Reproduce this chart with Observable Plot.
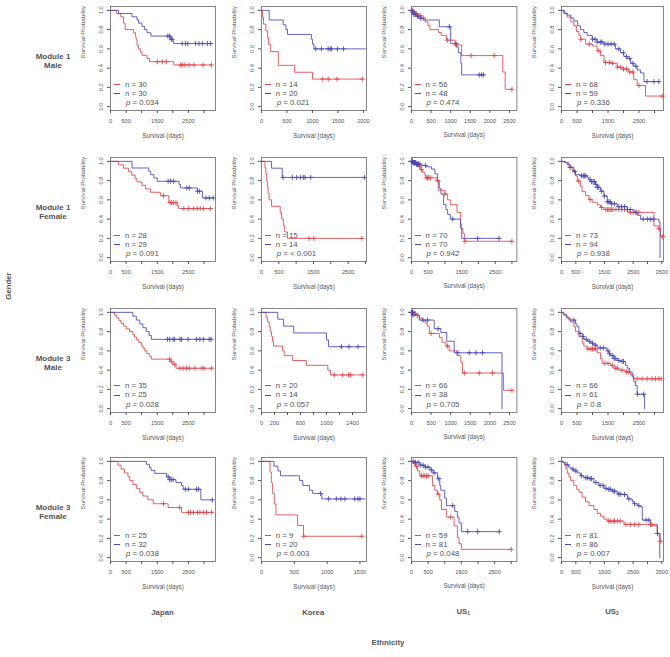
<!DOCTYPE html>
<html><head><meta charset="utf-8">
<script src="https://cdn.jsdelivr.net/npm/d3@7"></script>
<script src="https://cdn.jsdelivr.net/npm/@observablehq/plot@0.6"></script>
<style>
body{margin:0;background:#fff;}
#chart{position:relative;width:670px;height:657px;overflow:hidden;background:#fff;font-family:"Liberation Sans",Arial,Helvetica,sans-serif;color:#555;}
#chart svg{position:absolute;}
.lab{position:absolute;transform:translate(-50%,-50%);text-align:center;font-weight:bold;white-space:nowrap;color:#555;}
.leg{position:absolute;font-size:7.8px;line-height:9.3px;color:#555;white-space:nowrap;}
.leg .sw{display:inline-block;width:6px;height:0;border-top:1px solid;vertical-align:middle;margin-right:5px;}
.leg .pp{padding-left:12px;}
sub{font-size:5px;vertical-align:-1px;}
</style></head><body><div id="chart"></div>
<script>
// ---------- labels ----------
const rowLabels = [["Module 1","Male"],["Module 1","Female"],["Module 3","Male"],["Module 3","Female"]];
const colLabels = ["Japan","Korea","US<sub>1</sub>","US<sub>2</sub>"];
const yTicks = [0,0.2,0.4,0.6,0.8,1.0];

// ---------- x tick sets ----------
const ticks1500 = [0,500,1000,1500];           const labels1500 = ["0","500","1000","1500"];
const ticks2000 = [0,500,1000,1500,2000];      const labels2000 = ["0","500","1000","1500","2000"];
const ticks2500 = [0,500,1000,1500,2000,2500]; const labels2500 = ["0","500","1000","1500","2000","2500"];
const ticks3000 = [0,500,1000,1500,2000,2500,3000]; const labels3000 = ["0","500","","1500","","2500",""];
const ticks3500 = [0,500,1000,1500,2000,2500,3000,3500]; const labels3500 = ["0","500","","1500","","2500","","3500"];
const ticks1400 = [0,200,400,600,800,1000,1200,1400]; const labels1400 = ["0","200","","600","","1000","","1400"];

// ---------- Module 1 Male ----------
const japan_m1m_red = [[0,1],[200,0.967],[330,0.933],[420,0.867],[470,0.80],[740,0.767],[800,0.733],[820,0.70],[850,0.633],[900,0.60],[960,0.567],[1010,0.533],[1170,0.50],[1250,0.467],[2030,0.433],[3240,0.433]];
const japan_m1m_redC = [1500,1660,1790,2250,2300,2390,2520,2680,2970,3240];
const japan_m1m_blue = [[0,1],[260,0.967],[690,0.933],[850,0.90],[900,0.867],[1010,0.833],[1090,0.80],[1170,0.767],[1300,0.733],[1930,0.70],[2000,0.683],[2030,0.655],[3240,0.655]];
const japan_m1m_blueC = [1840,1900,1950,1980,2300,2410,2480,2730,2840,2950,3110,3215];

const korea_m1m_red = [[0,1],[20,0.929],[40,0.857],[85,0.786],[120,0.714],[140,0.643],[180,0.571],[330,0.429],[650,0.357],[1000,0.286],[1980,0.286]];
const korea_m1m_redC = [1200,1310,1480,1980];
const korea_m1m_blue = [[0,1],[150,0.90],[425,0.85],[480,0.80],[510,0.75],[980,0.70],[1000,0.65],[1030,0.60],[2040,0.60]];
const korea_m1m_blueC = [1065,1176,1307,1346,1373,1490,1608];

const us1_m1m_red = [[0,1],[30,0.982],[80,0.964],[150,0.946],[250,0.92],[350,0.88],[420,0.84],[470,0.80],[690,0.77],[760,0.74],[890,0.69],[1110,0.64],[1280,0.53],[2330,0.36],[2390,0.18],[2564,0.18]];
const us1_m1m_redC = [20,45,60,100,130,180,220,300,920,1140,1520,2110,2564];
const us1_m1m_blue = [[0,1],[20,0.979],[50,0.958],[120,0.937],[200,0.916],[300,0.90],[710,0.83],[1000,0.655],[1140,0.62],[1195,0.56],[1260,0.45],[1280,0.33],[1840,0.33]];
const us1_m1m_blueC = [10,30,60,90,150,240,964,1135,1730,1790,1840];

const us2_m1m_red = [[0,1],[60,0.97],[180,0.93],[300,0.88],[400,0.84],[480,0.78],[560,0.74],[620,0.70],[780,0.65],[1000,0.63],[1150,0.58],[1260,0.53],[1370,0.46],[1580,0.45],[1800,0.41],[1960,0.39],[2170,0.36],[2330,0.28],[2440,0.22],[2710,0.11],[3250,0.11]];
const us2_m1m_redC = [620,900,1200,1420,1550,1650,1800,1900,2000,2100,2200,2300,2500,3250];
const us2_m1m_blue = [[0,1],[100,0.97],[180,0.95],[300,0.92],[400,0.89],[520,0.84],[610,0.80],[720,0.77],[830,0.74],[990,0.70],[1150,0.67],[1370,0.65],[1740,0.60],[1900,0.56],[2010,0.52],[2120,0.50],[2230,0.45],[2330,0.42],[2440,0.38],[2550,0.35],[2660,0.26],[3140,0.26]];
const us2_m1m_blueC = [1000,1080,1150,1250,1300,1400,1500,1600,1700,1850,2000,2100,2200,2300,2400,2760,2980,3140];

// ---------- Module 1 Female ----------
const japan_m1f_red = [[0,1],[260,0.964],[420,0.929],[580,0.893],[680,0.857],[790,0.821],[850,0.786],[1010,0.75],[1120,0.714],[1280,0.679],[1600,0.643],[1870,0.571],[2140,0.536],[2190,0.51],[3270,0.51]];
const japan_m1f_redC = [1700,1910,1960,2020,2100,2350,2510,2670,2780,2880,2990,3200];
const japan_m1f_blue = [[0,1],[690,0.931],[1230,0.897],[1290,0.862],[1390,0.828],[1500,0.793],[2200,0.759],[2250,0.724],[2790,0.69],[2950,0.62],[3300,0.62]];
const japan_m1f_blueC = [1850,1930,2030,2450,2530,2790,2850,3060,3170,3300];

const korea_m1f_red = [[0,1],[100,0.933],[125,0.867],[150,0.80],[170,0.733],[190,0.667],[220,0.60],[290,0.533],[540,0.467],[580,0.40],[630,0.333],[670,0.267],[750,0.20],[2900,0.20]];
const korea_m1f_redC = [1370,1510,2900];
const korea_m1f_blue = [[0,1],[290,0.929],[600,0.833],[2970,0.833]];
const korea_m1f_blueC = [620,890,1015,1130,1210,1255,1420,2970];

const us1_m1f_red = [[0,1],[60,0.986],[150,0.971],[230,0.943],[280,0.914],[330,0.886],[400,0.857],[430,0.829],[760,0.80],[800,0.70],[1000,0.66],[1080,0.60],[1160,0.55],[1360,0.47],[1470,0.35],[1500,0.30],[1540,0.25],[1580,0.17],[3000,0.17]];
const us1_m1f_redC = [30,60,100,130,160,200,250,300,440,480,520,560,780,1000,1600,3000];
const us1_m1f_blue = [[0,1],[50,0.986],[150,0.971],[300,0.957],[430,0.943],[600,0.92],[700,0.87],[780,0.80],[830,0.72],[880,0.66],[960,0.55],[1030,0.50],[1080,0.45],[1160,0.40],[1460,0.31],[1500,0.20],[2620,0.20]];
const us1_m1f_blueC = [10,30,50,70,90,120,150,180,210,250,420,1230,1980,2620];

const us2_m1f_red = [[0,1],[140,0.986],[260,0.945],[370,0.904],[490,0.849],[550,0.795],[660,0.740],[720,0.685],[840,0.644],[960,0.603],[1070,0.575],[1250,0.548],[1360,0.52],[1480,0.50],[2300,0.47],[3230,0.33],[3400,0.30],[3460,0.22],[3530,0.22]];
const us2_m1f_redC = [600,1000,1400,1550,1600,1650,1700,1750,1800,1900,2000,2100,2200,2400,2500,2600,2700,3400,3530];
const us2_m1f_blue = [[0,1],[100,0.989],[200,0.968],[300,0.936],[430,0.894],[490,0.862],[660,0.850],[900,0.83],[960,0.81],[1010,0.79],[1190,0.76],[1250,0.73],[1360,0.69],[1480,0.64],[1600,0.58],[1710,0.56],[1950,0.53],[2300,0.50],[2530,0.47],[2650,0.44],[2760,0.40],[3400,0.37],[3440,0]];
const us2_m1f_blueC = [300,450,700,760,800,850,1000,1050,1100,1150,1200,1250,1300,1400,1500,1600,1650,1700,1750,1850,2000,2100,2200,2300,2400,2600,2850,3000,3100,3200];

// ---------- Module 3 Male ----------
const japan_m3m_red = [[0,1],[130,0.971],[200,0.943],[270,0.914],[340,0.886],[420,0.857],[500,0.829],[610,0.80],[720,0.771],[770,0.743],[830,0.714],[910,0.686],[990,0.657],[1040,0.629],[1100,0.60],[1170,0.571],[1260,0.543],[1310,0.514],[1930,0.49],[2000,0.46],[2100,0.42],[3250,0.42]];
const japan_m3m_redC = [1900,1950,2050,2230,2330,2440,2530,2710,2930,3000,3250];
const japan_m3m_blue = [[0,1],[720,0.96],[830,0.92],[940,0.88],[1040,0.84],[1150,0.80],[1240,0.76],[1310,0.72],[3250,0.72]];
const japan_m3m_blueC = [1830,1900,2010,2060,2230,2280,2490,2760,2870,2980,3170,3230];

const korea_m3m_red = [[0,1],[70,0.95],[90,0.90],[120,0.85],[135,0.80],[155,0.75],[170,0.70],[185,0.65],[325,0.60],[350,0.55],[480,0.50],[690,0.45],[1020,0.40],[1060,0.35],[1560,0.35]];
const korea_m3m_redC = [1120,1250,1340,1370,1560];
const korea_m3m_blue = [[0,1],[250,0.929],[340,0.857],[495,0.786],[1000,0.714],[1030,0.643],[1600,0.643]];
const korea_m3m_blueC = [1230,1345,1485];

const us1_m3m_red = [[0,1],[50,0.985],[115,0.97],[200,0.94],[285,0.91],[370,0.88],[413,0.85],[455,0.78],[710,0.74],[780,0.69],[880,0.65],[960,0.60],[1160,0.55],[1260,0.48],[1300,0.37],[2350,0.19],[2564,0.19]];
const us1_m3m_redC = [20,40,70,100,150,500,920,1350,1730,2070,2564];
const us1_m3m_blue = [[0,1],[30,0.97],[200,0.92],[580,0.83],[750,0.79],[900,0.70],[1090,0.58],[2310,0]];
const us1_m3m_blueC = [10,20,40,290,410,680,1180,1475,1645,1815];

const us2_m3m_red = [[0,1],[75,0.97],[180,0.94],[290,0.90],[400,0.85],[450,0.80],[560,0.75],[670,0.68],[720,0.65],[830,0.62],[1150,0.58],[1260,0.52],[1310,0.47],[1580,0.45],[1690,0.42],[1850,0.40],[2070,0.38],[2230,0.35],[2330,0.31],[3215,0.31]];
const us2_m3m_redC = [850,950,1000,1050,1100,1400,1500,1650,1750,1800,1950,2100,2150,2440,2600,2760,2920,3030,3140,3215];
const us2_m3m_blue = [[0,1],[60,0.98],[150,0.95],[240,0.92],[450,0.88],[500,0.85],[560,0.78],[670,0.75],[720,0.72],[830,0.70],[940,0.68],[1040,0.66],[1150,0.64],[1200,0.63],[1470,0.60],[1530,0.57],[1580,0.55],[1690,0.52],[1800,0.50],[1900,0.49],[2060,0.45],[2120,0.42],[2200,0.38],[2280,0.33],[2330,0.28],[2390,0.24],[2440,0.15],[2680,0]];
const us2_m3m_blueC = [400,600,700,800,900,1000,1100,1250,1350,1500,1550,1650,1700,1750,1850,1950,2000,2450,2650];

// ---------- Module 3 Female ----------
const japan_m3f_red = [[0,1],[240,0.96],[340,0.92],[450,0.88],[560,0.84],[620,0.80],[720,0.76],[830,0.72],[940,0.68],[1040,0.64],[1200,0.60],[1370,0.56],[1850,0.52],[2280,0.47],[3270,0.47]];
const japan_m3f_redC = [1700,2220,2500,2560,2660,2790,2870,2980,3080,3250];
const japan_m3f_blue = [[0,1],[1150,0.969],[1250,0.938],[1300,0.906],[1420,0.875],[1800,0.84],[1900,0.81],[2100,0.78],[2280,0.75],[2330,0.71],[2900,0.60],[3270,0.60]];
const japan_m3f_blueC = [1850,1900,1950,2010,2400,2500,2760,2830,3270];

const korea_m3f_red = [[0,1],[130,0.889],[150,0.778],[170,0.667],[195,0.556],[220,0.444],[550,0.333],[640,0.222],[1530,0.222]];
const korea_m3f_redC = [645,1530];
const korea_m3f_blue = [[0,1],[190,0.95],[250,0.90],[290,0.85],[580,0.80],[630,0.75],[730,0.70],[780,0.667],[920,0.61],[1580,0.61]];
const korea_m3f_blueC = [900,1020,1140,1210,1270,1420,1470,1500];

const us1_m3f_red = [[0,1],[60,0.98],[120,0.95],[180,0.90],[250,0.85],[630,0.75],[700,0.70],[780,0.66],[850,0.60],[900,0.50],[1060,0.42],[1280,0.33],[1380,0.21],[1430,0.145],[1500,0.086],[3000,0.086]];
const us1_m3f_redC = [100,150,300,350,400,450,500,800,1180,3000];
const us1_m3f_blue = [[0,1],[100,0.99],[250,0.96],[400,0.94],[560,0.91],[650,0.88],[780,0.82],[850,0.75],[880,0.70],[1000,0.62],[1050,0.54],[1300,0.48],[1380,0.42],[1430,0.36],[1500,0.27],[2640,0.27]];
const us1_m3f_blueC = [50,120,200,280,350,420,500,600,680,820,1240,1690,1990,2640];

const us2_m3f_red = [[0,1],[50,0.988],[100,0.963],[150,0.926],[200,0.876],[260,0.84],[320,0.80],[430,0.75],[530,0.71],[610,0.68],[720,0.63],[840,0.58],[960,0.54],[1130,0.50],[1250,0.46],[1360,0.43],[1480,0.40],[1600,0.38],[2180,0.345],[3340,0.25],[3440,0.17],[3470,0.17]];
const us2_m3f_redC = [1650,1700,1800,1850,1950,2050,2250,2400,2550,2700,3100,3150,3460];
const us2_m3f_blue = [[0,1],[60,0.988],[150,0.965],[250,0.94],[330,0.92],[430,0.90],[550,0.88],[660,0.85],[780,0.83],[960,0.82],[1130,0.78],[1300,0.75],[1480,0.72],[1600,0.71],[1770,0.69],[1950,0.66],[2120,0.655],[2300,0.61],[2470,0.58],[2530,0.56],[2650,0.54],[2740,0.53],[2820,0.39],[3110,0.33],[3345,0.25],[3430,0]];
const us2_m3f_blueC = [200,400,500,700,850,900,1000,1050,1200,1350,1450,1550,1650,1700,1800,1850,2000,2050,2200,2350,2550,2700,2950,3050,3350];

// ---------- legend values ----------
const nRed  = [[30,14,56,68],[28,15,70,73],[35,20,66,66],[25,9,59,81]];
const nBlue = [[30,20,48,59],[29,14,70,94],[25,14,38,61],[32,20,81,86]];
const pVals = [["0.034","0.021","0.474","0.336"],["0.091","< 0.001","0.942","0.938"],["0.028","0.057","0.705","0.8"],["0.038","0.003","0.048","0.007"]];
const xMax  = [[3370,2060,2690,3290],[3370,3030,3150,3560],[3370,1615,2690,3290],[3370,1600,3170,3560]];

// ---------- assemble ----------
const panels = [
 [japan_m1m_red,japan_m1m_redC,japan_m1m_blue,japan_m1m_blueC,ticks3000,labels3000],
 [korea_m1m_red,korea_m1m_redC,korea_m1m_blue,korea_m1m_blueC,ticks2000,labels2000],
 [us1_m1m_red,us1_m1m_redC,us1_m1m_blue,us1_m1m_blueC,ticks2500,labels2500],
 [us2_m1m_red,us2_m1m_redC,us2_m1m_blue,us2_m1m_blueC,ticks3000,labels3000],
 [japan_m1f_red,japan_m1f_redC,japan_m1f_blue,japan_m1f_blueC,ticks3000,labels3000],
 [korea_m1f_red,korea_m1f_redC,korea_m1f_blue,korea_m1f_blueC,ticks3000,labels3000],
 [us1_m1f_red,us1_m1f_redC,us1_m1f_blue,us1_m1f_blueC,ticks3000,labels3000],
 [us2_m1f_red,us2_m1f_redC,us2_m1f_blue,us2_m1f_blueC,ticks3500,labels3500],
 [japan_m3m_red,japan_m3m_redC,japan_m3m_blue,japan_m3m_blueC,ticks3000,labels3000],
 [korea_m3m_red,korea_m3m_redC,korea_m3m_blue,korea_m3m_blueC,ticks1400,labels1400],
 [us1_m3m_red,us1_m3m_redC,us1_m3m_blue,us1_m3m_blueC,ticks2500,labels2500],
 [us2_m3m_red,us2_m3m_redC,us2_m3m_blue,us2_m3m_blueC,ticks3000,labels3000],
 [japan_m3f_red,japan_m3f_redC,japan_m3f_blue,japan_m3f_blueC,ticks3000,labels3000],
 [korea_m3f_red,korea_m3f_redC,korea_m3f_blue,korea_m3f_blueC,ticks1500,labels1500],
 [us1_m3f_red,us1_m3f_redC,us1_m3f_blue,us1_m3f_blueC,ticks3000,labels3000],
 [us2_m3f_red,us2_m3f_redC,us2_m3f_blue,us2_m3f_blueC,ticks3500,labels3500]
];

const RED = "#e0464b", BLUE = "#4848b8";
const FONT = '"Liberation Sans", Arial, Helvetica, sans-serif';
const colLeft = [110, 260.7, 410.6, 561];
const colWidth = [105, 105, 105.4, 102];
const rowTop = [6, 157, 307.5, 457];
const boxH = 104, ML = 34, MR = 3, MT = 3, MB = 34;
const chart = document.getElementById("chart");

function survAt(curve, t) {
  let s = 1;
  for (const [x, y] of curve) { if (x <= t) s = y; else break; }
  return s;
}

panels.forEach(([red, redC, blue, blueC, ticks, labels], i) => {
  const row = Math.floor(i / 4), col = i % 4;
  const bw = colWidth[col], bl = colLeft[col], bt = rowTop[row];
  const lab = new Map(ticks.map((t, k) => [t, labels[k]]));
  const svg = Plot.plot({
    width: bw + ML + MR, height: boxH + MT + MB,
    marginLeft: ML, marginRight: MR, marginTop: MT, marginBottom: MB,
    style: {fontFamily: FONT, color: "#555", background: "transparent", overflow: "visible"},
    x: {domain: [0, xMax[row][col]]},
    y: {domain: [-0.04, 1.04]},
    marks: [
      Plot.frame({stroke: "#7a7a7a", strokeWidth: 0.9}),
      Plot.axisX({ticks, tickFormat: d => lab.get(d), tickSize: 3, tickPadding: 6, fontSize: 5.6, label: null}),
      Plot.axisY({ticks: yTicks, tickFormat: d => d.toFixed(1), tickRotate: -90, tickSize: 3, tickPadding: 5, fontSize: 5.6, label: null}),
      Plot.text(["Survival Probability"], {text: d => d, frameAnchor: "left", dx: -27, rotate: -90, fontSize: 6.2, fill: "#555"}),
      Plot.text(["Survival (days)"], {text: d => d, frameAnchor: "bottom", dy: 27, fontSize: 6.3, fill: "#555"}),
      Plot.line(red, {x: d => d[0], y: d => d[1], curve: "step-after", stroke: RED, strokeWidth: 0.85}),
      Plot.line(blue, {x: d => d[0], y: d => d[1], curve: "step-after", stroke: BLUE, strokeWidth: 0.85}),
      Plot.dot(redC, {x: d => d, y: d => survAt(red, d), symbol: "plus", r: 1.8, stroke: RED, strokeWidth: 0.85}),
      Plot.dot(blueC, {x: d => d, y: d => survAt(blue, d), symbol: "plus", r: 1.8, stroke: BLUE, strokeWidth: 0.85})
    ]
  });
  svg.style.left = (bl - ML) + "px";
  svg.style.top = (bt - MT) + "px";
  chart.appendChild(svg);

  const leg = document.createElement("div");
  leg.className = "leg";
  leg.style.left = (bl + 4) + "px";
  leg.style.top = (bt + 73.5) + "px";
  leg.innerHTML =
    `<div><span class="sw" style="border-color:${RED}"></span>n = ${nRed[row][col]}</div>` +
    `<div><span class="sw" style="border-color:${BLUE}"></span>n = ${nBlue[row][col]}</div>` +
    `<div class="pp"><i>p</i> = ${pVals[row][col]}</div>`;
  chart.appendChild(leg);
});

function addLabel(html, x, y, size, rotate) {
  const d = document.createElement("div");
  d.className = "lab";
  d.innerHTML = html;
  d.style.left = x + "px"; d.style.top = y + "px";
  d.style.fontSize = size + "px";
  d.style.lineHeight = "9px";
  if (rotate) d.style.transform = "translate(-50%,-50%) rotate(-90deg)";
  chart.appendChild(d);
}
rowLabels.forEach((r, i) => addLabel(r.join("<br>"), 53, rowTop[i] + 55, 8));
colLabels.forEach((c, i) => addLabel(c, colLeft[i] + colWidth[i] / 2, 612, 7.8));
addLabel("Ethnicity", 388, 642, 7.8);
addLabel("Gender", 8, 286, 7.8, true);
</script></body></html>
